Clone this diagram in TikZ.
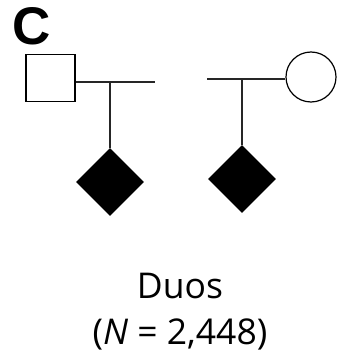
\documentclass[tikz,border=0pt]{standalone}
\usepackage{fontspec}
\setmainfont{Open Sans}
\newfontfamily\labelfont{Liberation Sans}
\usetikzlibrary{positioning, shapes.geometric}

\begin{document}
\begin{tikzpicture}[
    x=1pt, y=-1pt,
    male/.style={draw, line width=1.2pt, rectangle, minimum width=49pt, minimum height=47pt, inner sep=0pt},
    female/.style={draw, line width=1.2pt, circle, minimum size=50pt, inner sep=0pt},
    affected/.style={fill=black, diamond, minimum width=68pt, minimum height=68pt, inner sep=0pt},
    line/.style={draw=black!85, line width=1.5pt}
]
\useasboundingbox (0,0) rectangle (339,358);

\node[font=\labelfont\bfseries\fontsize{53}{53}\selectfont, anchor=base west, inner sep=0pt] (c) at (12,45) {C};

\node[male] (1) at (50.5,78) {};
\node[female] (2) at (311,77) {};
\coordinate (3) at (155,82);
\coordinate (4) at (207,79);

\node[affected] (5) at (110,182) {};
\node[affected] (6) at (242,179) {};

\draw[line] (1.east |- 3) -- (3);
\draw[line] (4) -- (2.west |- 4);
\draw[line] (3 -| 5) -- (5.north);
\draw[line] (4 -| 6) -- (6.north);

\node[font=\fontsize{35.5}{46}\selectfont, align=center, inner sep=0pt, anchor=north] (7) at (180,273)
  {Duos\\({\itshape N} = 2,448)};
\end{tikzpicture}
\end{document}
